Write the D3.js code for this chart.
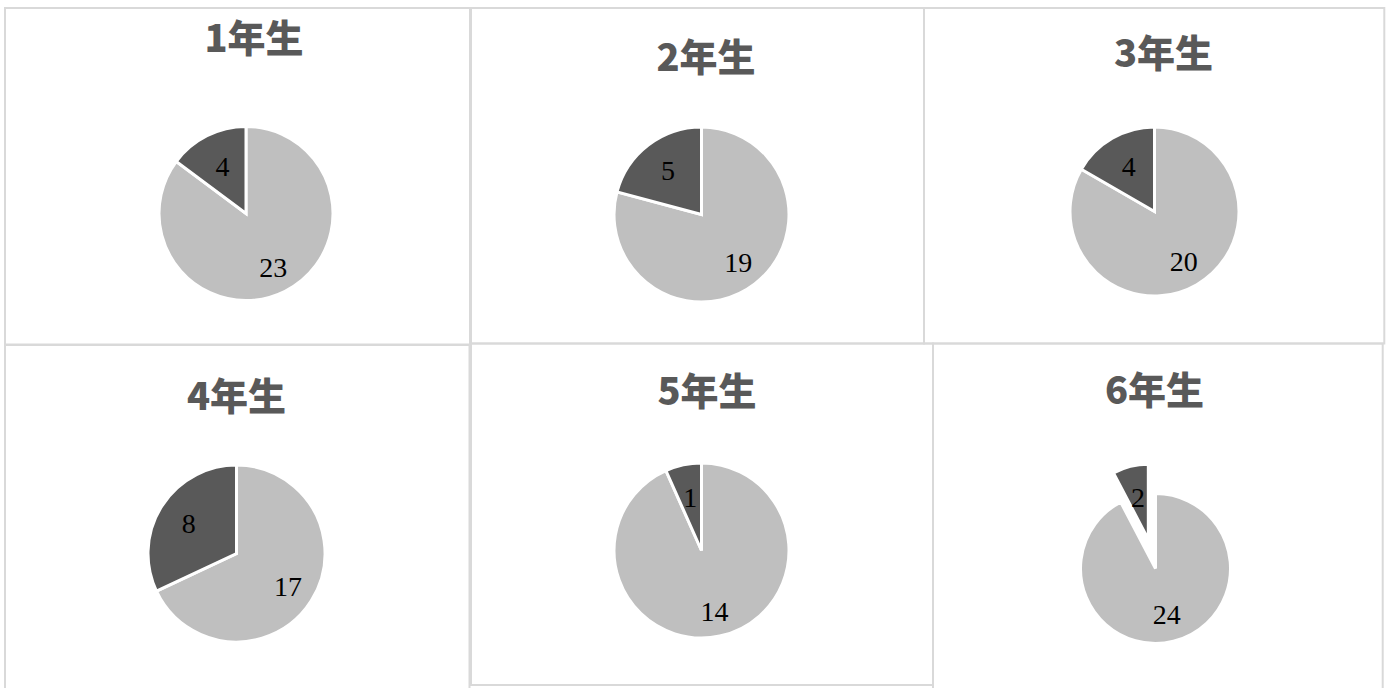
<!DOCTYPE html>
<html>
<head>
<meta charset="utf-8">
<script src="https://cdn.jsdelivr.net/npm/d3@7"></script>
<style>
  html, body { margin: 0; padding: 0; background: #ffffff; }
  svg { display: block; }
</style>
</head>
<body>
<svg id="chart" width="1391" height="688"></svg>
<script>
// ---- data ----
const grades = ["1年生", "2年生", "3年生", "4年生", "5年生", "6年生"];
const lightValues = [23, 19, 20, 17, 14, 24];
const darkValues = [4, 5, 4, 8, 1, 2];

// ---- layout / style ----
const panelBoxes = [
  [5, 8, 470, 344.5],
  [471, 8, 924, 343.5],
  [924, 8, 1384.3, 343.5],
  [5, 345, 469.5, 700],
  [471, 343.5, 933, 685],
  [933, 343.5, 1382.7, 700]
];
const pieCenters = [[246, 213.5], [701.5, 214.5], [1154.5, 211.5], [236.5, 553.5], [701.5, 550.5], [1155.5, 568.5]];
const pieRadii = [87, 87.5, 84.5, 88.5, 87.5, 75];
const titlePos = [[254, 52], [706, 71], [1163.5, 67], [236.5, 410], [707, 405], [1154.5, 404]];
const explodeDark = [0, 0, 0, 0, 0, 30];
const labelFracDark = [0.6, 0.63, 0.61, 0.64, 0.62, 0.57];
const labelFracLight = [0.7, 0.69, 0.69, 0.69, 0.71, 0.63];

const colorScale = d3.scaleOrdinal().domain(["light", "dark"]).range(["#bfbfbf", "#595959"]);

const svg = d3.select("#chart");

// panel borders
svg.append("g").selectAll("rect").data(panelBoxes).join("rect")
  .attr("x", d => d[0]).attr("y", d => d[1])
  .attr("width", d => d[2] - d[0]).attr("height", d => d[3] - d[1])
  .attr("fill", "none").attr("stroke", "#d9d9d9").attr("stroke-width", 2);

const pie = d3.pie().sort(null).value(d => d.value).startAngle(0).endAngle(2 * Math.PI);

grades.forEach((g, i) => {
  const data = [
    { key: "light", value: lightValues[i] },
    { key: "dark", value: darkValues[i] }
  ];
  const arcs = pie(data);
  const r = pieRadii[i];
  const arc = d3.arc().innerRadius(0).outerRadius(r);
  const grp = svg.append("g").attr("transform", `translate(${pieCenters[i][0]},${pieCenters[i][1]})`);

  const offset = (d) => {
    const e = d.data.key === "dark" ? explodeDark[i] : 0;
    const mid = (d.startAngle + d.endAngle) / 2;
    return [Math.sin(mid) * e, -Math.cos(mid) * e];
  };

  grp.selectAll("path").data(arcs).join("path")
    .attr("d", arc)
    .attr("transform", d => { const o = offset(d); return `translate(${o[0]},${o[1]})`; })
    .attr("fill", d => colorScale(d.data.key))
    .attr("stroke", "#ffffff")
    .attr("stroke-width", 3)
    .attr("stroke-linejoin", "miter");

  grp.selectAll("text").data(arcs).join("text")
    .attr("transform", d => {
      const frac = d.data.key === "dark" ? labelFracDark[i] : labelFracLight[i];
      const la = d3.arc().innerRadius(r * frac).outerRadius(r * frac);
      const c = la.centroid(d);
      const o = offset(d);
      return `translate(${c[0] + o[0]},${c[1] + o[1]})`;
    })
    .attr("text-anchor", "middle")
    .attr("dominant-baseline", "central")
    .attr("font-family", "'Liberation Serif', 'DejaVu Serif', serif")
    .attr("font-size", 28)
    .attr("fill", "#000000")
    .text(d => d.data.value);

  svg.append("text")
    .attr("x", titlePos[i][0]).attr("y", titlePos[i][1])
    .attr("text-anchor", "middle")
    .attr("font-family", "'Noto Sans CJK JP', 'Noto Sans', sans-serif")
    .attr("font-weight", 900)
    .attr("font-size", 38)
    .attr("fill", "#595959")
    .text(g);
});
</script>
</body>
</html>
